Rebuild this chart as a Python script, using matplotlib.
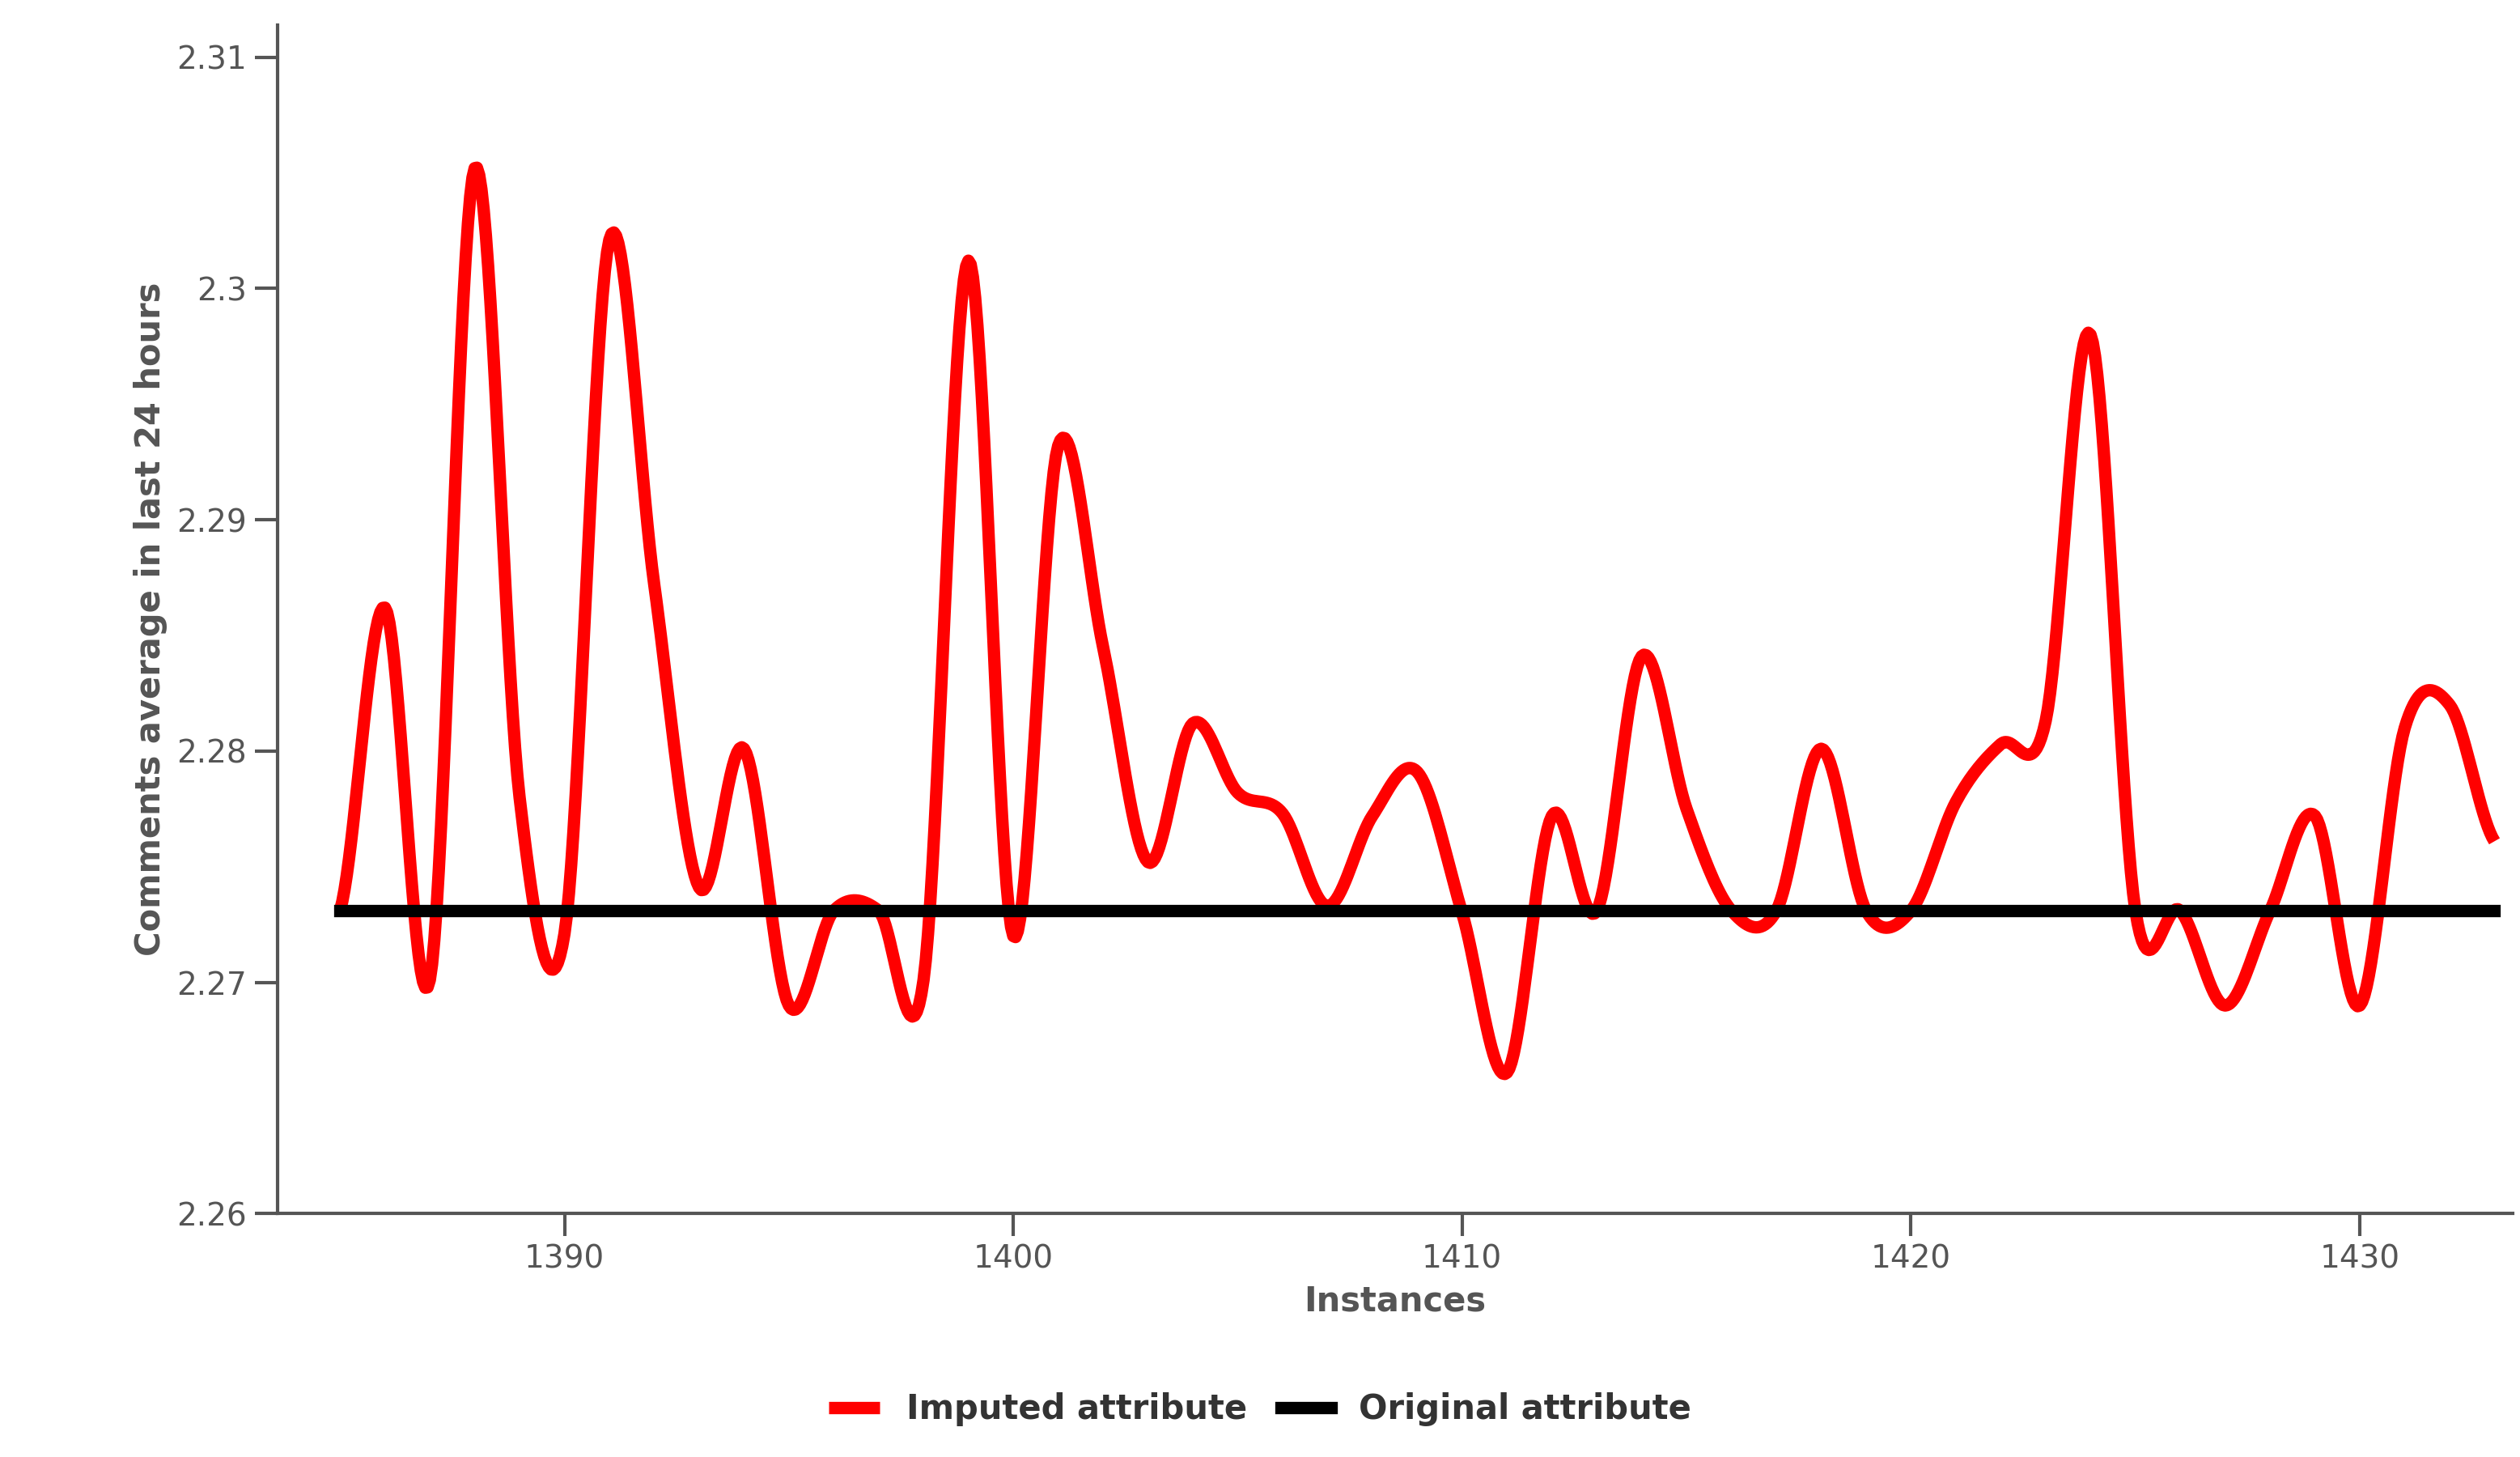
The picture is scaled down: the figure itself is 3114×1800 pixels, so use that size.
import numpy as np
import matplotlib
matplotlib.use("Agg")
import matplotlib.pyplot as plt

instances = list(range(1385, 1434))
imputed = [2.2731, 2.2862, 2.2701, 2.3052, 2.2780, 2.2721, 2.3021, 2.2872, 2.2741, 2.2801,
           2.2690, 2.2731, 2.2731, 2.2701, 2.3012, 2.2720, 2.2932, 2.2845, 2.2752, 2.2812,
           2.2782, 2.2773, 2.2733, 2.2772, 2.2791, 2.2730, 2.2661, 2.2772, 2.2731, 2.2841,
           2.2775, 2.2731, 2.2731, 2.2801, 2.2731, 2.2731, 2.2778, 2.2803, 2.2813, 2.2980,
           2.2731, 2.2731, 2.2690, 2.2731, 2.2772, 2.2690, 2.2810, 2.2820, 2.2761]
original = [2.2731] * len(instances)

def smooth(x, y, n=20):
    x = np.asarray(x, float); y = np.asarray(y, float)
    xs, ys = [], []
    for i in range(len(x) - 1):
        p0 = y[max(i - 1, 0)]; p1 = y[i]; p2 = y[i + 1]; p3 = y[min(i + 2, len(y) - 1)]
        t = np.linspace(0, 1, n, endpoint=False)
        m1 = (p2 - p0) / 2; m2 = (p3 - p1) / 2
        h00 = 2*t**3 - 3*t**2 + 1; h10 = t**3 - 2*t**2 + t
        h01 = -2*t**3 + 3*t**2; h11 = t**3 - t**2
        ys.append(h00*p1 + h10*m1 + h01*p2 + h11*m2)
        xs.append(x[i] + t*(x[i+1]-x[i]))
    xs.append([x[-1]]); ys.append([y[-1]])
    return np.concatenate(xs), np.concatenate(ys)

fig = plt.figure(figsize=(15.57, 9.0), dpi=200)
ax = fig.add_axes([0.11, 0.167, 0.887, 0.816])
sx, sy = smooth(instances, imputed)
ax.plot(sx, sy, color="#ff0000", lw=5.5, label="Imputed attribute", solid_capstyle="butt")
ax.plot(instances, original, color="black", lw=5.5, label="Original attribute")
ax.set_xlim(1383.6, 1433.4)
ax.set_ylim(2.26, 2.3114)
ax.set_xticks([1390, 1400, 1410, 1420, 1430])
ax.set_yticks([2.26, 2.27, 2.28, 2.29, 2.30, 2.31])
ax.set_yticklabels(["2.26", "2.27", "2.28", "2.29", "2.3", "2.31"])
for s in ["top", "right"]:
    ax.spines[s].set_visible(False)
for s in ["left", "bottom"]:
    ax.spines[s].set_color("#555555"); ax.spines[s].set_linewidth(1.5)
ax.tick_params(colors="#555555", labelsize=14, length=10, width=1.5, labelcolor="#555555")
ax.set_xlabel("Instances", fontsize=15, fontweight="bold", color="#555555", labelpad=4)
ax.set_ylabel("Comments average in last 24 hours", fontsize=15, fontweight="bold", color="#555555")
leg = fig.legend(loc="lower center", bbox_to_anchor=(0.5, 0.0), ncol=2, frameon=False,
                 prop={"weight": "bold", "size": 15}, handlelength=1.5, columnspacing=1.0)
for t in leg.get_texts():
    t.set_color("#333333")
fig.savefig("out.png", dpi=200)
